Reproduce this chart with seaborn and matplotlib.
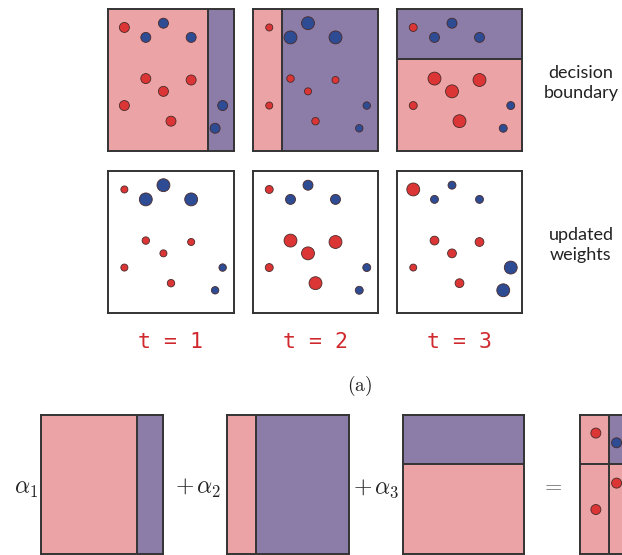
#!/usr/bin/env python3
"""AdaBoost toy illustration: weak learners, reweighted samples and their sum."""

import matplotlib
matplotlib.use("Agg")
import matplotlib.pyplot as plt
import pandas as pd
import seaborn as sns

W_PX, H_PX = 622, 555

RED = "#dc3535"
BLUE = "#2e4c93"
PINK = "#eca3a5"
PURPLE = "#8b7ca8"
FRAME = "#333333"

# the same eleven samples appear in every panel (unit square, y upward)
POINT_X = [0.13, 0.30, 0.66, 0.44, 0.13, 0.50, 0.44, 0.30, 0.66, 0.91, 0.85]
POINT_Y = [0.87, 0.51, 0.50, 0.42, 0.32, 0.21, 0.90, 0.80, 0.80, 0.32, 0.16]
POINT_LABEL = ["red", "red", "red", "red", "red", "red",
               "blue", "blue", "blue", "blue", "blue"]

# sample weights
WEIGHTS_T1 = [0.09, 0.09, 0.09, 0.09, 0.09, 0.09, 0.09, 0.09, 0.09, 0.09, 0.09]
WEIGHTS_T2 = [0.045, 0.05, 0.045, 0.045, 0.045, 0.05, 0.15, 0.15, 0.15, 0.05, 0.05]
WEIGHTS_T3 = [0.057, 0.15, 0.15, 0.15, 0.057, 0.15, 0.09, 0.09, 0.09, 0.057, 0.057]
WEIGHTS_T4 = [0.15, 0.07, 0.07, 0.07, 0.044, 0.07, 0.057, 0.057, 0.057, 0.15, 0.15]

# decision stumps: axis, threshold; the low side is always "red"
STUMP_AXIS = ["x", "x", "y"]
STUMP_THRESHOLD = [0.79, 0.235, 0.65]

ROUND_LABELS = ["t = 1", "t = 2", "t = 3"]
ALPHA_LABELS = [r"$\alpha_1$", r"$+\,\alpha_2$", r"$+\,\alpha_3$"]


def fig_box(x0, y0, x1, y1):
    """Pixel box (top-left origin) -> figure fraction rect."""
    return [x0 / W_PX, 1 - y1 / H_PX, (x1 - x0) / W_PX, (y1 - y0) / H_PX]


def stump_predict(i, x, y):
    v = x if STUMP_AXIS[i] == "x" else y
    return "red" if v < STUMP_THRESHOLD[i] else "blue"


def setup_panel(ax):
    ax.set_xlim(0, 1)
    ax.set_ylim(0, 1)
    ax.set_xticks([])
    ax.set_yticks([])
    ax.set(xlabel="", ylabel="")
    for sp in ax.spines.values():
        sp.set_color(FRAME)
        sp.set_linewidth(1.4)
        sp.set_zorder(5)


def draw_regions(ax, stumps):
    xs = sorted({0.0, 1.0} | {STUMP_THRESHOLD[i] for i in stumps if STUMP_AXIS[i] == "x"})
    ys = sorted({0.0, 1.0} | {STUMP_THRESHOLD[i] for i in stumps if STUMP_AXIS[i] == "y"})
    for x0, x1 in zip(xs[:-1], xs[1:]):
        for y0, y1 in zip(ys[:-1], ys[1:]):
            cx, cy = (x0 + x1) / 2, (y0 + y1) / 2
            votes = [stump_predict(i, cx, cy) for i in stumps]
            lab = "red" if votes.count("red") > votes.count("blue") else "blue"
            ax.axvspan(x0, x1, ymin=y0, ymax=y1, color=PINK if lab == "red" else PURPLE,
                       lw=0, zorder=0)
    for x in xs[1:-1]:
        ax.axvline(x, color=FRAME, lw=1.4, zorder=2)
    for y in ys[1:-1]:
        ax.axhline(y, color=FRAME, lw=1.4, zorder=2)


def draw_points(ax, weights):
    df = pd.DataFrame({"x": POINT_X, "y": POINT_Y, "label": POINT_LABEL, "w": weights})
    sns.scatterplot(data=df, x="x", y="y", hue="label", palette={"red": RED, "blue": BLUE},
                    size="w", sizes=(0, 115), size_norm=(0, 0.2),
                    edgecolor="#4a2a2a", linewidth=0.6, legend=False, ax=ax, zorder=3)


def main():
    plt.rcParams["mathtext.fontset"] = "cm"
    fig = plt.figure(figsize=(W_PX / 100, H_PX / 100), dpi=100)

    top_x = [(108, 234), (253, 378), (397, 522)]
    before = [WEIGHTS_T1, WEIGHTS_T2, WEIGHTS_T3]
    after = [WEIGHTS_T2, WEIGHTS_T3, WEIGHTS_T4]

    for k, (x0, x1) in enumerate(top_x):
        ax = fig.add_axes(fig_box(x0, 9, x1, 151))
        draw_regions(ax, [k])
        draw_points(ax, before[k])
        setup_panel(ax)

        ax = fig.add_axes(fig_box(x0, 171, x1, 313))
        draw_points(ax, after[k])
        setup_panel(ax)

        fig.text((x0 + x1) / 2 / W_PX, 1 - 342 / H_PX, ROUND_LABELS[k],
                 family="DejaVu Sans Mono", fontsize=15.5, color="#d0282d",
                 ha="center", va="center")

    side = dict(family="Lato", fontsize=13, color="#222222", ha="center",
                va="center", linespacing=1.25)
    fig.text(581 / W_PX, 1 - 83 / H_PX, "decision\nboundary", **side)
    fig.text(581 / W_PX, 1 - 245 / H_PX, "updated\nweights", **side)

    fig.text(360 / W_PX, 1 - 386 / H_PX, r"$\mathrm{(a)}$", fontsize=14,
             ha="center", va="center", color="#222222")

    # bottom row: weighted sum of the weak learners
    bot_x = [(41, 163), (227, 349), (403, 524)]
    label_right = [38, 221, 400]
    for k, (x0, x1) in enumerate(bot_x):
        ax = fig.add_axes(fig_box(x0, 415, x1, 554))
        draw_regions(ax, [k])
        setup_panel(ax)
        fig.text(label_right[k] / W_PX, 1 - 494 / H_PX, ALPHA_LABELS[k], fontsize=17,
                 ha="right", va="baseline", color="#222222")

    fig.text(552 / W_PX, 1 - 485 / H_PX, "$=$", fontsize=16, ha="center",
             va="center", color="#666666")

    ax = fig.add_axes(fig_box(580, 415, 702, 554))
    draw_regions(ax, [0, 1, 2])
    draw_points(ax, WEIGHTS_T1)
    setup_panel(ax)

    fig.savefig("out.png", dpi=100)


if __name__ == "__main__":
    main()
